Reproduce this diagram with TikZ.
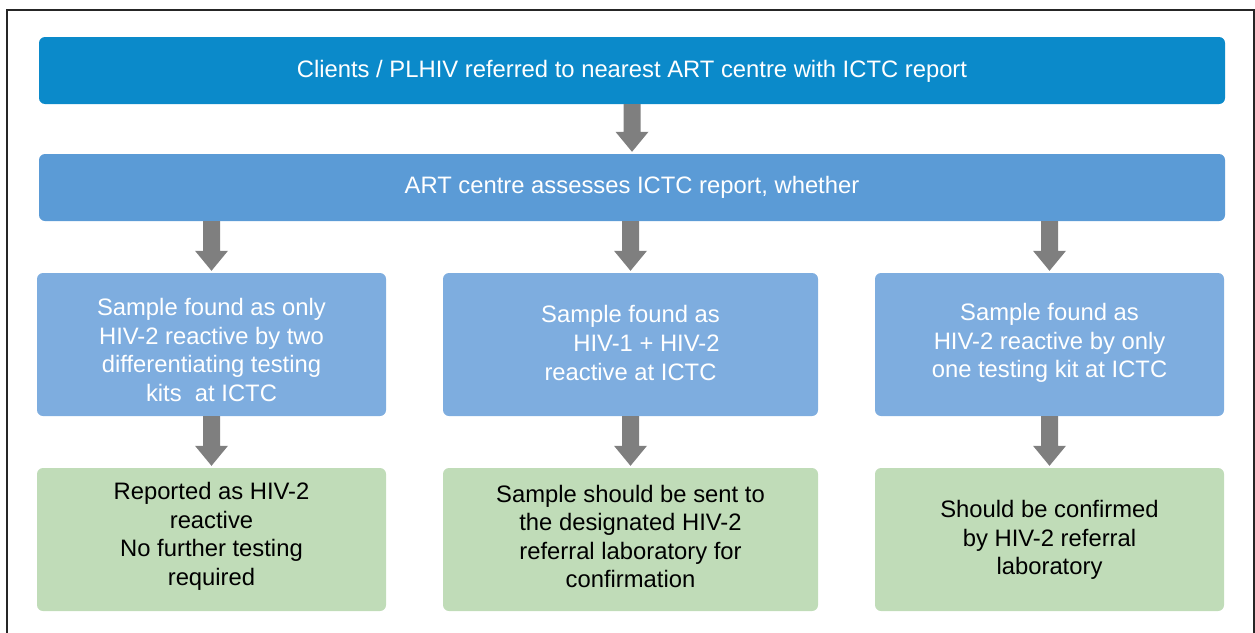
\documentclass[tikz,border=0pt]{standalone}
\usepackage{fontspec}
\setmainfont{Liberation Sans}
\usetikzlibrary{calc}
\definecolor{topblue}{HTML}{0B8ACA}
\definecolor{midblue}{HTML}{5B9BD6}
\definecolor{lightblue}{HTML}{7EADDF}
\definecolor{lightgreen}{HTML}{C0DCB8}
\definecolor{arrowgrey}{HTML}{7F7F7F}
\tikzset{
  panel/.style={rectangle, rounded corners=6pt, draw=none, inner sep=0pt},
  wide/.style={panel, minimum width=1186pt, minimum height=67pt},
  cell/.style={panel, minimum width=#1, minimum height=143pt},
  label text/.style={inner sep=0pt, align=center,
    font=\fontsize{23.8}{28.6}\selectfont},
  white text/.style={label text, text=white}
}
% grey block arrow from the bottom of node #1 down to the top of node #2,
% centred on node #2
\newcommand{\blockarrow}[2]{%
  \fill[arrowgrey] let \p1=(#1.south), \p2=(#2.north) in
    (\x2-8.5pt,\y1) -- (\x2+8.5pt,\y1) -- (\x2+8.5pt,\y2+22pt)
    -- (\x2+16.5pt,\y2+22pt) -- (\x2,\y2+2pt) -- (\x2-16.5pt,\y2+22pt)
    -- (\x2-8.5pt,\y2+22pt) -- cycle;}
\begin{document}
\begin{tikzpicture}[x=1pt,y=-1pt]
\useasboundingbox (0,0) rectangle (1255,632);
\begin{scope}
\clip (0,0) rectangle (1255,632);
\draw[line width=1.6pt, black!85] (7,10) rectangle (1254,660);
\end{scope}

% top rows
\node[wide, fill=topblue] (top) at (632,70.5) {};
\node[white text] (toptext) at (632,71) {Clients / PLHIV referred to nearest ART centre with ICTC report};
\node[wide, fill=midblue] (assess) at (632,187.5) {};
\node[white text] (assesstext) at (632,187) {ART centre assesses ICTC report, whether};

% third row
\node[cell=349pt, fill=lightblue] (c1) at (211.5,344.5) {};
\node[cell=375pt, fill=lightblue] (c2) at (630.5,344.5) {};
\node[cell=349pt, fill=lightblue] (c3) at (1049.5,344.5) {};
\node[white text] (c1text) at (211.5,350) {Sample found as only\\HIV-2 reactive by two\\differentiating testing\\kits\ \ at ICTC};
\node[white text] (c2text) at (630.5,343) {Sample found as\\\hspace*{32pt}HIV-1 + HIV-2\\reactive at ICTC};
\node[white text] (c3text) at (1049.5,343) {Sample found as\\HIV-2 reactive by only\\one testing kit at ICTC};

% bottom row
\node[cell=349pt, fill=lightgreen] (d1) at (211.5,539.5) {};
\node[cell=375pt, fill=lightgreen] (d2) at (630.5,539.5) {};
\node[cell=349pt, fill=lightgreen] (d3) at (1049.5,539.5) {};
\node[label text] (d1text) at (211.5,536.5) {Reported as HIV-2\\reactive\\No further testing\\required};
\node[label text] (d2text) at (630.5,536.5) {Sample should be sent to\\the designated HIV-2\\referral laboratory for\\confirmation};
\node[label text] (d3text) at (1049.5,540) {Should be confirmed\\by HIV-2 referral\\laboratory};

% arrows
\blockarrow{top}{assess}
\blockarrow{assess}{c1}
\blockarrow{assess}{c2}
\blockarrow{assess}{c3}
\blockarrow{c1}{d1}
\blockarrow{c2}{d2}
\blockarrow{c3}{d3}
\end{tikzpicture}
\end{document}
